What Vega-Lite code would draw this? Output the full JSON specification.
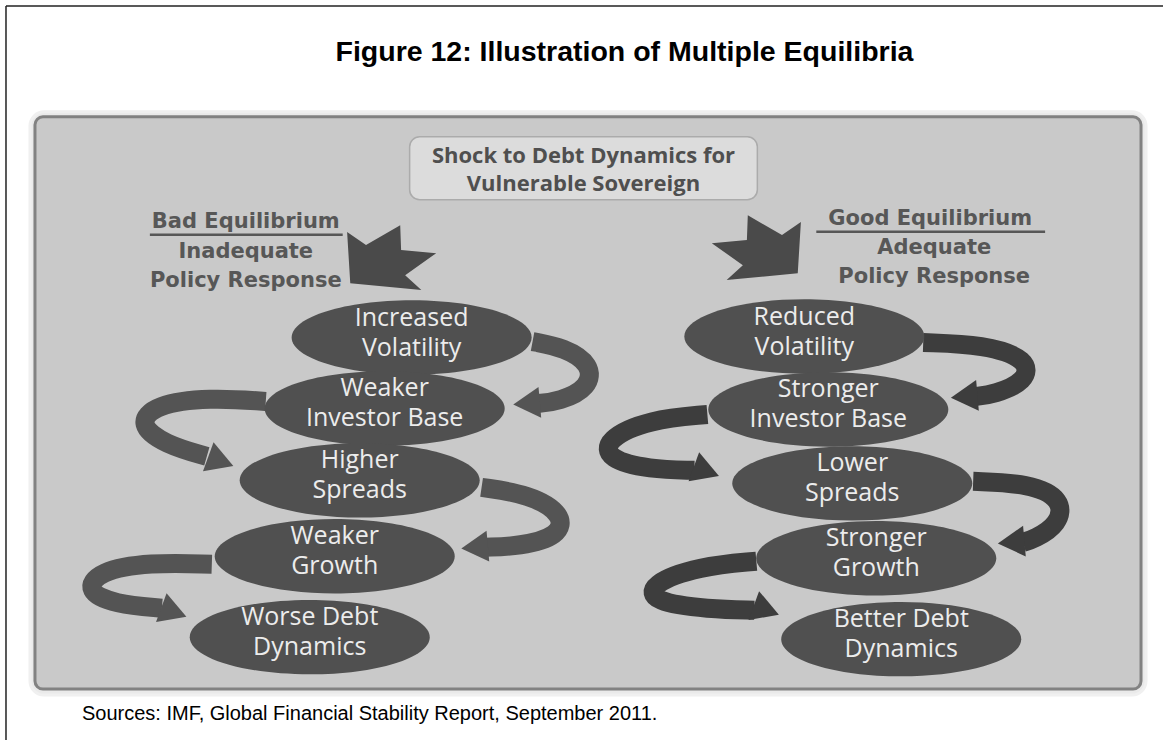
{
  "$schema": "https://vega.github.io/schema/vega-lite/v6.json",
  "width": 1164,
  "height": 741,
  "autosize": {"type": "fit", "contains": "padding"},
  "padding": 0,
  "background": "white",
  "config": {"view": {"stroke": null}},
  "datasets": {
    "frame": [
      {"x": 6, "y": 6, "x2": 1164, "y2": 6},
      {"x": 6, "y": 6, "x2": 6, "y2": 741}
    ],
    "panels": [
      {"name": "shadow", "x": 30, "y": 112, "x2": 1147, "y2": 696},
      {"name": "panel", "x": 35, "y": 117, "x2": 1142, "y2": 690},
      {"name": "shock", "x": 410, "y": 137, "x2": 758, "y2": 200}
    ],
    "stars": [
      {"side": "bad", "x": 392, "y": 258},
      {"side": "good", "x": 757, "y": 248}
    ],
    "arrows": [
      {"id": "A1", "side": "bad", "o": 1, "x": 533, "y": 342},
      {"id": "A1", "side": "bad", "o": 2, "x": 565, "y": 348},
      {"id": "A1", "side": "bad", "o": 3, "x": 592, "y": 365},
      {"id": "A1", "side": "bad", "o": 4, "x": 590, "y": 388},
      {"id": "A1", "side": "bad", "o": 5, "x": 560, "y": 402},
      {"id": "A1", "side": "bad", "o": 6, "x": 538, "y": 404},
      {"id": "A2", "side": "bad", "o": 1, "x": 266, "y": 402},
      {"id": "A2", "side": "bad", "o": 2, "x": 210, "y": 398},
      {"id": "A2", "side": "bad", "o": 3, "x": 155, "y": 405},
      {"id": "A2", "side": "bad", "o": 4, "x": 138, "y": 425},
      {"id": "A2", "side": "bad", "o": 5, "x": 165, "y": 445},
      {"id": "A2", "side": "bad", "o": 6, "x": 207, "y": 457},
      {"id": "A3", "side": "bad", "o": 1, "x": 482, "y": 488},
      {"id": "A3", "side": "bad", "o": 2, "x": 530, "y": 495},
      {"id": "A3", "side": "bad", "o": 3, "x": 564, "y": 515},
      {"id": "A3", "side": "bad", "o": 4, "x": 560, "y": 537},
      {"id": "A3", "side": "bad", "o": 5, "x": 520, "y": 547},
      {"id": "A3", "side": "bad", "o": 6, "x": 486, "y": 548},
      {"id": "A4", "side": "bad", "o": 1, "x": 212, "y": 565},
      {"id": "A4", "side": "bad", "o": 2, "x": 150, "y": 563},
      {"id": "A4", "side": "bad", "o": 3, "x": 98, "y": 572},
      {"id": "A4", "side": "bad", "o": 4, "x": 86, "y": 592},
      {"id": "A4", "side": "bad", "o": 5, "x": 115, "y": 605},
      {"id": "A4", "side": "bad", "o": 6, "x": 162, "y": 609},
      {"id": "B1", "side": "good", "o": 1, "x": 924, "y": 343},
      {"id": "B1", "side": "good", "o": 2, "x": 985, "y": 345},
      {"id": "B1", "side": "good", "o": 3, "x": 1030, "y": 360},
      {"id": "B1", "side": "good", "o": 4, "x": 1027, "y": 382},
      {"id": "B1", "side": "good", "o": 5, "x": 995, "y": 395},
      {"id": "B1", "side": "good", "o": 6, "x": 976, "y": 397},
      {"id": "B2", "side": "good", "o": 1, "x": 708, "y": 415},
      {"id": "B2", "side": "good", "o": 2, "x": 650, "y": 420},
      {"id": "B2", "side": "good", "o": 3, "x": 606, "y": 440},
      {"id": "B2", "side": "good", "o": 4, "x": 608, "y": 460},
      {"id": "B2", "side": "good", "o": 5, "x": 650, "y": 470},
      {"id": "B2", "side": "good", "o": 6, "x": 695, "y": 471},
      {"id": "B3", "side": "good", "o": 1, "x": 974, "y": 482},
      {"id": "B3", "side": "good", "o": 2, "x": 1030, "y": 484},
      {"id": "B3", "side": "good", "o": 3, "x": 1064, "y": 500},
      {"id": "B3", "side": "good", "o": 4, "x": 1060, "y": 525},
      {"id": "B3", "side": "good", "o": 5, "x": 1035, "y": 540},
      {"id": "B3", "side": "good", "o": 6, "x": 1024, "y": 543},
      {"id": "B4", "side": "good", "o": 1, "x": 757, "y": 562},
      {"id": "B4", "side": "good", "o": 2, "x": 700, "y": 567},
      {"id": "B4", "side": "good", "o": 3, "x": 650, "y": 585},
      {"id": "B4", "side": "good", "o": 4, "x": 653, "y": 603},
      {"id": "B4", "side": "good", "o": 5, "x": 710, "y": 610},
      {"id": "B4", "side": "good", "o": 6, "x": 755, "y": 611}
    ],
    "headsLeft": [
      {"id": "A1", "side": "bad", "x": 527, "y": 404},
      {"id": "A3", "side": "bad", "x": 475, "y": 548},
      {"id": "B1", "side": "good", "x": 965, "y": 397},
      {"id": "B3", "side": "good", "x": 1012, "y": 543}
    ],
    "headsRight": [
      {"id": "A2", "side": "bad", "x": 221, "y": 462},
      {"id": "A4", "side": "bad", "x": 174, "y": 613},
      {"id": "B2", "side": "good", "x": 707, "y": 472},
      {"id": "B4", "side": "good", "x": 767, "y": 611}
    ],
    "nodes": [
      {"label": "Increased\nVolatility", "x": 412, "y": 338},
      {"label": "Weaker\nInvestor Base", "x": 385, "y": 409},
      {"label": "Higher\nSpreads", "x": 360, "y": 481},
      {"label": "Weaker\nGrowth", "x": 335, "y": 557},
      {"label": "Worse Debt\nDynamics", "x": 310, "y": 638},
      {"label": "Reduced\nVolatility", "x": 805, "y": 337},
      {"label": "Stronger\nInvestor Base", "x": 829, "y": 410},
      {"label": "Lower\nSpreads", "x": 853, "y": 484},
      {"label": "Stronger\nGrowth", "x": 877, "y": 559},
      {"label": "Better Debt\nDynamics", "x": 902, "y": 640}
    ],
    "headings": [
      {"label": "Bad Equilibrium", "x": 246, "y": 222},
      {"label": "Inadequate", "x": 246, "y": 252},
      {"label": "Policy Response", "x": 246, "y": 281},
      {"label": "Good Equilibrium", "x": 931, "y": 219},
      {"label": "Adequate", "x": 935, "y": 248},
      {"label": "Policy Response", "x": 935, "y": 277}
    ],
    "underlines": [
      {"x": 150, "x2": 343, "y": 235},
      {"x": 817, "x2": 1046, "y": 232}
    ],
    "shockText": [
      {"label": "Shock to Debt Dynamics for", "x": 584, "y": 156},
      {"label": "Vulnerable Sovereign", "x": 584, "y": 184}
    ],
    "titles": [
      {"label": "Figure 12: Illustration of Multiple Equilibria", "x": 625, "y": 52}
    ],
    "sources": [
      {"label": "Sources: IMF, Global Financial Stability Report, September 2011.", "x": 82, "y": 715}
    ]
  },
  "layer": [
    {
      "data": {"name": "frame"},
      "mark": {"type": "rule", "color": "#222222", "strokeWidth": 1.5},
      "encoding": {
        "x": {"field": "x", "type": "quantitative", "scale": {"domain": [0, 1164], "nice": false, "zero": false}, "axis": null},
        "y": {"field": "y", "type": "quantitative", "scale": {"domain": [0, 741], "nice": false, "zero": false, "reverse": true}, "axis": null},
        "x2": {"field": "x2"},
        "y2": {"field": "y2"}
      }
    },
    {
      "data": {"name": "panels"},
      "transform": [{"filter": "datum.name === 'shadow'"}],
      "mark": {"type": "rect", "fill": "#eaeaea", "cornerRadius": 14, "stroke": "#f0f0f0", "strokeWidth": 3},
      "encoding": {
        "x": {"field": "x", "type": "quantitative"},
        "y": {"field": "y", "type": "quantitative"},
        "x2": {"field": "x2"},
        "y2": {"field": "y2"}
      }
    },
    {
      "data": {"name": "panels"},
      "transform": [{"filter": "datum.name === 'panel'"}],
      "mark": {"type": "rect", "fill": "#c9c9c9", "cornerRadius": 8, "stroke": "#828282", "strokeWidth": 3},
      "encoding": {
        "x": {"field": "x", "type": "quantitative"},
        "y": {"field": "y", "type": "quantitative"},
        "x2": {"field": "x2"},
        "y2": {"field": "y2"}
      }
    },
    {
      "data": {"name": "panels"},
      "transform": [{"filter": "datum.name === 'shock'"}],
      "mark": {"type": "rect", "fill": "#dcdcdc", "cornerRadius": 10, "stroke": "#ababab", "strokeWidth": 1.5},
      "encoding": {
        "x": {"field": "x", "type": "quantitative"},
        "y": {"field": "y", "type": "quantitative"},
        "x2": {"field": "x2"},
        "y2": {"field": "y2"}
      }
    },
    {
      "data": {"name": "stars"},
      "mark": {"type": "point", "filled": true, "fill": "#4a4a4a", "opacity": 1, "size": 8100, "strokeWidth": 0},
      "encoding": {
        "x": {"field": "x", "type": "quantitative"},
        "y": {"field": "y", "type": "quantitative"},
        "shape": {
          "field": "side", "type": "nominal", "legend": null,
          "scale": {
            "domain": ["bad", "good"],
            "range": [
              "M0.19,-0.72L-0.57,-0.28L-0.99,-0.57L-0.92,0.57L0.66,0.72L0.3,0.39L0.99,-0.1L0.21,-0.17Z",
              "M-0.19,-0.72L0.57,-0.28L0.99,-0.57L0.92,0.57L-0.66,0.72L-0.3,0.39L-0.99,-0.1L-0.21,-0.17Z"
            ]
          }
        }
      }
    },
    {
      "data": {"name": "arrows"},
      "mark": {"type": "line", "interpolate": "basis", "strokeWidth": 19, "strokeCap": "butt"},
      "encoding": {
        "x": {"field": "x", "type": "quantitative"},
        "y": {"field": "y", "type": "quantitative"},
        "detail": {"field": "id", "type": "nominal"},
        "order": {"field": "o", "type": "quantitative"},
        "color": {"field": "side", "type": "nominal", "legend": null, "scale": {"domain": ["bad", "good"], "range": ["#545454", "#3d3d3d"]}}
      }
    },
    {
      "data": {"name": "headsLeft"},
      "mark": {"type": "point", "shape": "triangle-left", "filled": true, "size": 950, "opacity": 1, "angle": -5},
      "encoding": {
        "x": {"field": "x", "type": "quantitative"},
        "y": {"field": "y", "type": "quantitative"},
        "color": {"field": "side", "type": "nominal", "legend": null, "scale": {"domain": ["bad", "good"], "range": ["#545454", "#3d3d3d"]}}
      }
    },
    {
      "data": {"name": "headsRight"},
      "mark": {"type": "point", "shape": "triangle-right", "filled": true, "size": 950, "opacity": 1, "angle": 20},
      "encoding": {
        "x": {"field": "x", "type": "quantitative"},
        "y": {"field": "y", "type": "quantitative"},
        "color": {"field": "side", "type": "nominal", "legend": null, "scale": {"domain": ["bad", "good"], "range": ["#545454", "#3d3d3d"]}}
      }
    },
    {
      "data": {"name": "nodes"},
      "mark": {"type": "point", "filled": true, "fill": "#505050", "opacity": 1, "strokeWidth": 0, "size": 57600,
        "shape": "M-1,0A1,0.31,0,1,0,1,0A1,0.31,0,1,0,-1,0Z"},
      "encoding": {
        "x": {"field": "x", "type": "quantitative"},
        "y": {"field": "y", "type": "quantitative"}
      }
    },
    {
      "data": {"name": "nodes"},
      "mark": {"type": "text", "font": "Open Sans", "fontSize": 25, "color": "#ececec", "align": "center", "baseline": "middle", "lineBreak": "\n", "lineHeight": 30, "dy": -20},
      "encoding": {
        "x": {"field": "x", "type": "quantitative"},
        "y": {"field": "y", "type": "quantitative"},
        "text": {"field": "label", "type": "nominal"}
      }
    },
    {
      "data": {"name": "headings"},
      "mark": {"type": "text", "font": "DejaVu Sans", "fontWeight": "bold", "fontSize": 21, "color": "#575757", "align": "center", "baseline": "middle"},
      "encoding": {
        "x": {"field": "x", "type": "quantitative"},
        "y": {"field": "y", "type": "quantitative"},
        "text": {"field": "label", "type": "nominal"}
      }
    },
    {
      "data": {"name": "underlines"},
      "mark": {"type": "rule", "color": "#575757", "strokeWidth": 2.5},
      "encoding": {
        "x": {"field": "x", "type": "quantitative"},
        "x2": {"field": "x2"},
        "y": {"field": "y", "type": "quantitative"}
      }
    },
    {
      "data": {"name": "shockText"},
      "mark": {"type": "text", "font": "Open Sans", "fontWeight": "bold", "fontSize": 22, "color": "#4f4f4f", "align": "center", "baseline": "middle"},
      "encoding": {
        "x": {"field": "x", "type": "quantitative"},
        "y": {"field": "y", "type": "quantitative"},
        "text": {"field": "label", "type": "nominal"}
      }
    },
    {
      "data": {"name": "titles"},
      "mark": {"type": "text", "font": "Liberation Sans", "fontWeight": "bold", "fontSize": 28.5, "color": "#000000", "align": "center", "baseline": "middle"},
      "encoding": {
        "x": {"field": "x", "type": "quantitative"},
        "y": {"field": "y", "type": "quantitative"},
        "text": {"field": "label", "type": "nominal"}
      }
    },
    {
      "data": {"name": "sources"},
      "mark": {"type": "text", "font": "Liberation Sans", "fontSize": 20, "color": "#000000", "align": "left", "baseline": "middle"},
      "encoding": {
        "x": {"field": "x", "type": "quantitative"},
        "y": {"field": "y", "type": "quantitative"},
        "text": {"field": "label", "type": "nominal"}
      }
    }
  ]
}
